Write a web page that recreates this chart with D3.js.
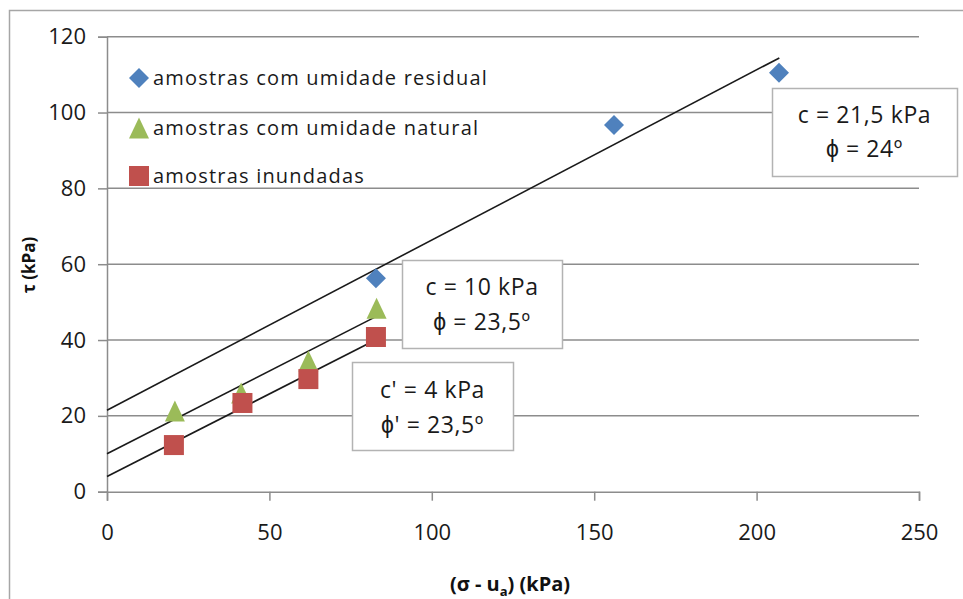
<!DOCTYPE html>
<html><head><meta charset="utf-8">
<script src="https://cdn.jsdelivr.net/npm/d3@7"></script>
<style>
html,body{margin:0;padding:0;background:#fff;}
text{font-family:"Open Sans",sans-serif;}
</style></head>
<body>
<svg id="c" width="963" height="599"></svg>
<script>
// ---- data ----
const seriesNames = ["amostras com umidade residual","amostras com umidade natural","amostras inundadas"];
const residualX = [82.8, 156.1, 206.9];
const residualY = [56.3, 96.7, 110.5];
const naturalX = [20.9, 41.3, 62.0, 83.0];
const naturalY = [21.3, 26.0, 34.5, 48.4];
const inundX = [20.6, 41.7, 62.0, 82.8];
const inundY = [12.3, 23.4, 29.7, 40.8];
// trend lines (endpoints)
const lineResidualX = [0, 207];
const lineResidualY = [21.5, 114.4];
const lineNaturalX = [0, 84];
const lineNaturalY = [10, 46.7];
const lineInundX = [0, 84];
const lineInundY = [4, 40.6];
const xTicks = [0, 50, 100, 150, 200, 250];
const yTicks = [0, 20, 40, 60, 80, 100, 120];
const boxTexts = [["c = 21,5 kPa","ϕ = 24º"],["c = 10 kPa","ϕ = 23,5º"],["c' = 4 kPa","ϕ' = 23,5º"]];

const colors = ["#4F81BD","#9BBB59","#C0504D"];
const svg = d3.select("#c");
const L = 107, R = 919, T = 36.7, B = 491.7;
const x = d3.scaleLinear().domain([0,250]).range([L,R]);
const y = d3.scaleLinear().domain([0,120]).range([B,T]);

// outer chart border
svg.append("rect").attr("x",9.5).attr("y",10.5).attr("width",970).attr("height",600)
  .attr("fill","none").attr("stroke","#a6a6a6").attr("stroke-width",1.5);

// gridlines
svg.append("g").selectAll("line").data(yTicks.filter(d=>d>0)).join("line")
  .attr("x1",L).attr("x2",R).attr("y1",d=>y(d)).attr("y2",d=>y(d))
  .attr("stroke","#8c8c8c").attr("stroke-width",1.5);

// axes
const yAx = svg.append("g").attr("transform",`translate(${L},0)`)
  .call(d3.axisLeft(y).tickValues(yTicks).tickSize(9).tickPadding(12));
const xAx = svg.append("g").attr("transform",`translate(0,${B})`)
  .call(d3.axisBottom(x).tickValues(xTicks).tickSize(9).tickPadding(24));
[yAx,xAx].forEach(g=>{
  g.select(".domain").attr("stroke","#8c8c8c").attr("stroke-width",1.5);
  g.selectAll(".tick line").attr("stroke","#8c8c8c").attr("stroke-width",1.5);
  g.selectAll("text").attr("font-size",22).attr("fill","#1a1a1a").attr("font-family","'Open Sans',sans-serif");
});

// axis titles
svg.append("text").attr("x",510).attr("y",591).attr("text-anchor","middle")
  .attr("font-size",20).attr("font-weight","bold").attr("fill","#111")
  .html('(σ - u<tspan font-size="13" dy="5">a</tspan><tspan dy="-5">) (kPa)</tspan>');
svg.append("text").attr("transform","translate(35,265) rotate(-90)").attr("text-anchor","middle")
  .attr("font-size",17).attr("font-weight","bold").attr("fill","#111").text("τ (kPa)");

// trend lines
const lineGen = d3.line().x(d=>x(d[0])).y(d=>y(d[1]));
[[lineResidualX,lineResidualY],[lineNaturalX,lineNaturalY],[lineInundX,lineInundY]].forEach(([xs,ys])=>{
  svg.append("path").datum(xs.map((v,i)=>[v,ys[i]])).attr("d",lineGen)
    .attr("fill","none").attr("stroke","#1a1a1a").attr("stroke-width",1.6);
});

// markers
function drawMarker(g, i, cx, cy){
  if(i===0){
    g.append("path").attr("d","M0,-10L10,0L0,10L-10,0Z").attr("transform",`translate(${cx},${cy})`).attr("fill",colors[0]);
  } else if(i===1){
    g.append("path").attr("d","M0,-10.5L10,10.5L-10,10.5Z").attr("transform",`translate(${cx},${cy})`).attr("fill",colors[1]);
  } else {
    g.append("rect").attr("x",cx-10).attr("y",cy-10).attr("width",20).attr("height",20).attr("fill",colors[2]);
  }
}
const mg = svg.append("g");
naturalX.forEach((v,i)=>drawMarker(mg,1,x(v),y(naturalY[i])));
inundX.forEach((v,i)=>drawMarker(mg,2,x(v),y(inundY[i])));
residualX.forEach((v,i)=>drawMarker(mg,0,x(v),y(residualY[i])));

// legend
const legY = [78, 128, 176];
seriesNames.forEach((n,i)=>{
  drawMarker(svg,i,139,legY[i]);
  svg.append("text").attr("x",153).attr("y",legY[i]+7).attr("font-size",20)
    .attr("letter-spacing",1.2).attr("fill","#1a1a1a").text(n);
});

// annotation boxes
const boxes = [{x:772,y:88,w:185,h:88,l1:115,l2:149},{x:402,y:260,w:160,h:88,l1:287,l2:322},{x:352,y:362,w:161,h:88,l1:390,l2:425}];
boxes.forEach((b,i)=>{
  svg.append("rect").attr("x",b.x+0.5).attr("y",b.y+0.5).attr("width",b.w).attr("height",b.h)
    .attr("fill","#fff").attr("stroke","#b3b3b3").attr("stroke-width",1.5);
  const cx = b.x + b.w/2;
  [0,1].forEach(k=>{
    svg.append("text").attr("x",cx).attr("y",(k?b.l2:b.l1)+8).attr("text-anchor","middle")
      .attr("font-size",23).attr("letter-spacing",0.6).attr("fill","#1a1a1a").text(boxTexts[i][k]);
  });
});
</script>
</body></html>
